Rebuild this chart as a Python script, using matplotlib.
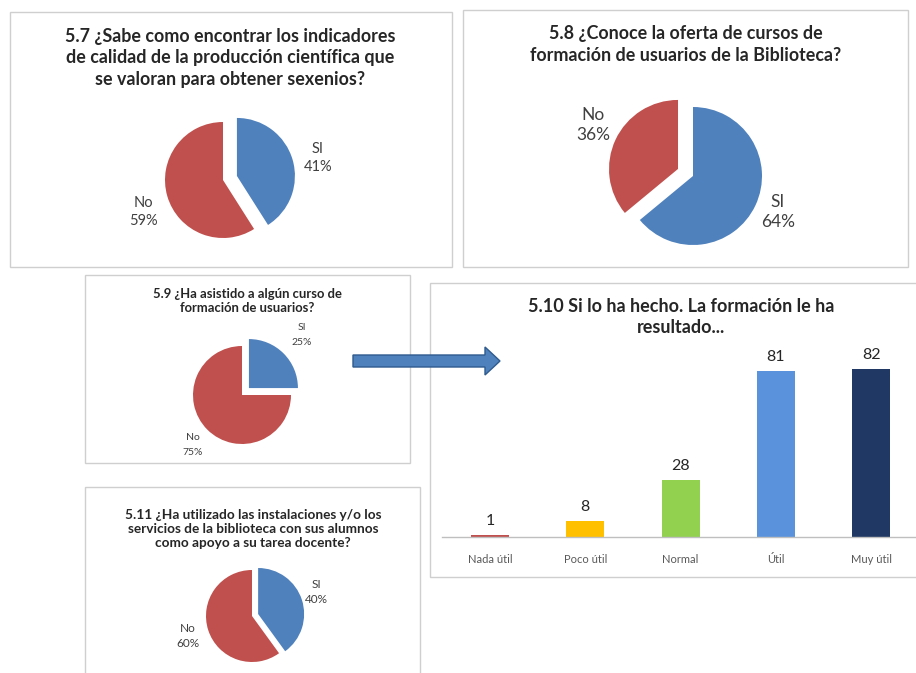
import matplotlib
matplotlib.use("Agg")
import matplotlib.pyplot as plt
from matplotlib.patches import Rectangle, FancyArrow

plt.rcParams['font.family'] = ['Lato', 'DejaVu Sans']

# ---------------- data ----------------
pie_labels = ["SI", "No"]
p57_values = [41, 59]
p58_values = [64, 36]
p59_values = [25, 75]
p511_values = [40, 60]

p57_title = "5.7 ¿Sabe como encontrar los indicadores\nde calidad de la producción científica que\nse valoran para obtener sexenios?"
p58_title = "5.8 ¿Conoce la oferta de cursos de\nformación de usuarios de la Biblioteca?"
p59_title = "5.9 ¿Ha asistido a algún curso de\nformación de usuarios?"
p511_title = "5.11 ¿Ha utilizado las instalaciones y/o los\nservicios de la biblioteca con sus alumnos\ncomo apoyo a su tarea docente?"

bar_title = "5.10 Si lo ha hecho. La formación le ha\nresultado..."
bar_categories = ["Nada útil", "Poco útil", "Normal", "Útil", "Muy útil"]
bar_values = [1, 8, 28, 81, 82]

# ---------------- styles ----------------
W, H = 916, 673
BLUE = "#4F81BD"
RED = "#C0504D"
bar_colors = ["#C0504D", "#FFC000", "#92D050", "#5A93DC", "#1F3864"]
TXT = "#262626"
LBL = "#404040"

fig = plt.figure(figsize=(W / 100, H / 100), dpi=100)
fig.patch.set_facecolor("white")

bg = fig.add_axes([0, 0, 1, 1], zorder=0)
bg.set_xlim(0, W)
bg.set_ylim(H, 0)
bg.axis("off")


def px_axes(x0, y0, w, h, z=1):
    ax = fig.add_axes([x0 / W, 1 - (y0 + h) / H, w / W, h / H], zorder=z)
    ax.patch.set_alpha(0)
    return ax


def box(x0, y0, w, h):
    bg.add_patch(Rectangle((x0, y0), w, h, facecolor="white",
                           edgecolor="#CFCFCF", lw=1.0, zorder=1))


def pie_panel(cx, cy, R, values, explode, lab_pos, fs, ls=1.35, startangle=90):
    S = 4 * R
    ax = px_axes(cx - S / 2, cy - S / 2, S, S, z=2)
    ax.pie(values, colors=[BLUE, RED], explode=explode, startangle=startangle,
           counterclock=False, radius=1,
           wedgeprops=dict(edgecolor="none"))
    ax.set_xlim(-2, 2)
    ax.set_ylim(-2, 2)
    ax.axis("off")
    for lab, v, (lx, ly) in zip(pie_labels, values, lab_pos):
        bg.text(lx, ly, f"{lab}\n{v}%", ha="center", va="center",
                fontsize=fs, color=LBL, linespacing=ls, zorder=3)


# panel boxes
box(10, 12, 442, 255)
box(463, 10, 445, 257)
box(85, 275, 325, 188)
box(430, 283, 495, 294)
box(85, 487, 335, 200)

# titles
bg.text(230, 58, p57_title, ha="center", va="center", fontsize=12.9,
        fontweight="bold", color=TXT, linespacing=1.33, zorder=3)
bg.text(686, 44.5, p58_title, ha="center", va="center", fontsize=12.9,
        fontweight="bold", color=TXT, linespacing=1.4, zorder=3)
bg.text(247, 301, p59_title, ha="center", va="center", fontsize=9.4,
        fontweight="bold", color=TXT, linespacing=1.15, zorder=3)
bg.text(253, 529, p511_title, ha="center", va="center", fontsize=9.8,
        fontweight="bold", color=TXT, linespacing=1.2, zorder=3)
bg.text(681, 317, bar_title, ha="center", va="center", fontsize=13,
        fontweight="bold", color=TXT, linespacing=1.33, zorder=3)

# pies
pie_panel(223, 180, 58, p57_values, [0.25, 0], [(318, 158), (143, 212)], 10.5, ls=1.37)
pie_panel(693, 176, 69, p58_values, [0, 0.24], [(778, 212), (593, 125)], 12.5, ls=1.38)
pie_panel(242, 395, 49, p59_values, [0.2, 0], [(302, 335), (193, 445)], 7.5, ls=1.8)
pie_panel(252, 616, 46, p511_values, [0.14, 0], [(316, 592), (188, 636)], 8.5, ls=1.5)

# arrow
bg.add_patch(FancyArrow(353, 361, 147, 0, width=12, head_width=28,
                        head_length=15, length_includes_head=True,
                        facecolor=BLUE, edgecolor="#2F5B8E", lw=1, zorder=4))

# bar chart
bx0, by_base, bw, bh = 442, 537, 474, 197
axb = px_axes(bx0, by_base - bh, bw, bh, z=2)
xs = list(range(len(bar_categories)))
bars = axb.bar(xs, bar_values, width=0.4, color=bar_colors, zorder=2)
axb.set_xlim(-0.504, 4.47)
axb.set_ylim(0, bh / 2.05)
for s in ["top", "right", "left"]:
    axb.spines[s].set_visible(False)
axb.spines["bottom"].set_color("#BFBFBF")
axb.spines["bottom"].set_linewidth(1)
axb.set_yticks([])
axb.set_xticks(xs)
axb.set_xticklabels(bar_categories, fontsize=8, color="#595959")
axb.tick_params(axis="x", length=0, pad=12)
for x, v in zip(xs, bar_values):
    axb.annotate(str(v), (x, v), xytext=(0, 5), textcoords="offset points",
                 ha="center", va="bottom", fontsize=11.5, color=TXT)

fig.savefig("out.png", dpi=100, facecolor="white")
